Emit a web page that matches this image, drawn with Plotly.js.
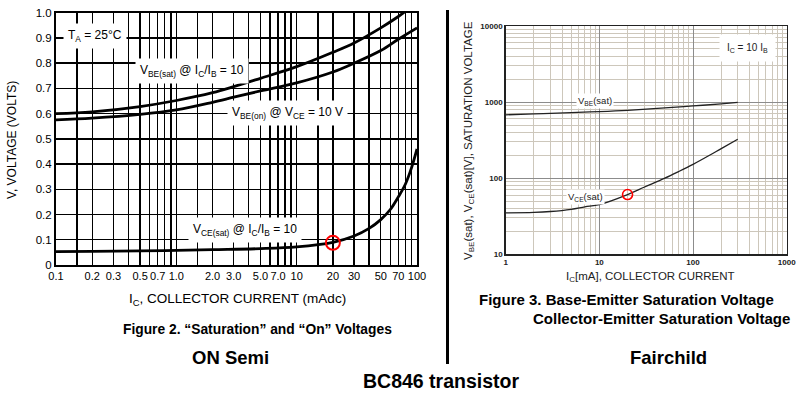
<!DOCTYPE html>
<html>
<head>
<meta charset="utf-8">
<script src="https://cdn.plot.ly/plotly-3.0.1.min.js"></script>
<style>html,body{margin:0;padding:0;background:#fff;}#chart{width:807px;height:398px;}</style>
</head>
<body>
<div id="chart"></div>
<script>
// ---------- ON Semi chart (left) ----------
const icBeSat = [0.1, 0.2, 0.5, 1, 2, 3, 5, 10, 20, 30, 50, 70, 80];
const vBeSat  = [0.600, 0.607, 0.628, 0.652, 0.683, 0.707, 0.740, 0.786, 0.843, 0.880, 0.940, 0.985, 1.005];
const icBeOn  = [0.1, 0.2, 0.5, 1, 2, 3, 5, 10, 20, 30, 50, 70, 100];
const vBeOn   = [0.575, 0.582, 0.597, 0.615, 0.645, 0.665, 0.690, 0.722, 0.765, 0.800, 0.850, 0.895, 0.940];
const icCeSat = [0.1, 0.2, 0.5, 1, 2, 5, 10, 20, 30, 40, 50, 60, 70, 80, 90, 100];
const vCeSat  = [0.053, 0.054, 0.056, 0.058, 0.061, 0.065, 0.072, 0.090, 0.115, 0.145, 0.180, 0.220, 0.270, 0.320, 0.385, 0.460];
const markLeftX = [20];
const markLeftY = [0.088];
const leftXTicks = [0.1, 0.2, 0.3, 0.5, 0.7, 1, 2, 3, 5, 7, 10, 20, 30, 50, 70, 100];
const leftXLabels = ['0.1','0.2','0.3','0.5','0.7','1.0','2.0','3.0','5.0','7.0','10','20','30','50','70','100'];
const leftXMinor = [0.15, 0.4, 0.6, 0.8, 0.9, 1.5, 4, 6, 8, 9, 15, 40, 60, 80, 90];
const leftYTicks = [0, 0.1, 0.2, 0.3, 0.4, 0.5, 0.6, 0.7, 0.8, 0.9, 1.0];
const leftYLabels = ['0','0.1','0.2','0.3','0.4','0.5','0.6','0.7','0.8','0.9','1.0'];

// ---------- Fairchild chart (right) ----------
const icR   = [1, 2, 3, 5, 10, 20, 50, 100, 200, 300];
const vBeR  = [680, 700, 712, 728, 750, 780, 840, 890, 950, 990];
const icCeR = [1, 2, 3, 5, 7, 10, 20, 30, 50, 70, 100, 150, 200, 300];
const vCeR  = [35, 35.5, 36.5, 39, 42, 45, 61, 76, 100, 122, 152, 200, 245, 325];
const markRightX = [20];
const markRightY = [61];
const rightXTicks = [1, 10, 100, 1000];
const rightYTicks = [10, 100, 1000, 10000];
const rightXMinor = [2,3,4,5,6,7,8,9,20,30,40,50,60,70,80,90,200,300,400,500,600,700,800,900];
const rightYMinor = [20,30,40,50,60,70,80,90,200,300,400,500,600,700,800,900,2000,3000,4000,5000,6000,7000,8000,9000];

const W = 807, H = 398;
const px = v => v / W;
const py = v => 1 - v / H;
const ARIAL = "'Liberation Sans', Arial, sans-serif";

const traces = [
  {x: icBeSat, y: vBeSat, xaxis: 'x', yaxis: 'y', mode: 'lines', line: {color: '#000', width: 2.8, shape: 'spline', smoothing: 1}, hoverinfo: 'skip'},
  {x: icBeOn, y: vBeOn, xaxis: 'x', yaxis: 'y', mode: 'lines', line: {color: '#000', width: 2.8, shape: 'spline', smoothing: 1}, hoverinfo: 'skip'},
  {x: icCeSat, y: vCeSat, xaxis: 'x', yaxis: 'y', mode: 'lines', line: {color: '#000', width: 2.8, shape: 'spline', smoothing: 1}, hoverinfo: 'skip'},
  {x: markLeftX, y: markLeftY, xaxis: 'x', yaxis: 'y', mode: 'markers', marker: {symbol: 'circle-open', size: 14, color: '#ff0000', line: {width: 2, color: '#ff0000'}}, hoverinfo: 'skip'},
  {x: icR, y: vBeR, xaxis: 'x2', yaxis: 'y2', mode: 'lines', line: {color: '#222', width: 1.3, shape: 'spline'}, hoverinfo: 'skip'},
  {x: icCeR, y: vCeR, xaxis: 'x2', yaxis: 'y2', mode: 'lines', line: {color: '#222', width: 1.3, shape: 'spline'}, hoverinfo: 'skip'},
  {x: markRightX, y: markRightY, xaxis: 'x2', yaxis: 'y2', mode: 'markers', marker: {symbol: 'circle-open', size: 10, color: '#ff0000', line: {width: 1.6, color: '#ff0000'}}, hoverinfo: 'skip'}
];

function ann(text, x, y, size, opts) {
  const o = Object.assign({text: text, x: px(x), y: py(y), xref: 'paper', yref: 'paper', showarrow: false,
    xanchor: 'center', yanchor: 'middle'}, opts || {});
  o.font = Object.assign({family: ARIAL, size: size, color: '#000'}, (opts && opts.font) || {});
  return o;
}

const annotations = [
  ann('T<sub>A</sub> = 25°C', 95, 36, 12, {bgcolor: '#fff', borderpad: 4}),
  ann('V<sub>BE(sat)</sub> @ I<sub>C</sub>/I<sub>B</sub> = 10', 192, 71, 12, {bgcolor: '#fff', borderpad: 4}),
  ann('V<sub>BE(on)</sub> @ V<sub>CE</sub> = 10 V', 287, 113, 12, {bgcolor: '#fff', borderpad: 4}),
  ann('V<sub>CE(sat)</sub> @ I<sub>C</sub>/I<sub>B</sub> = 10', 245, 230, 12, {bgcolor: '#fff', borderpad: 4}),
  ann('I<sub>C</sub>, COLLECTOR CURRENT (mAdc)', 237, 299, 13.5),
  ann('V, VOLTAGE (VOLTS)', 12, 140, 12, {textangle: -90}),
  ann('<b>Figure 2. \u201cSaturation\u201d and \u201cOn\u201d Voltages</b>', 257, 329, 13.8),
  ann('<b>ON Semi</b>', 231, 357, 18.5),
  ann('I<sub>C</sub> = 10 I<sub>B</sub>', 747, 48, 10, {bgcolor: '#fff', borderpad: 7, font: {color: '#222'}}),
  ann('V<sub>BE</sub>(sat)', 595, 101, 9.5, {bgcolor: '#fff', borderpad: 1, font: {color: '#222'}}),
  ann('V<sub>CE</sub>(sat)', 585, 197, 9.5, {bgcolor: '#fff', borderpad: 1, font: {color: '#222'}}),
  ann('I<sub>C</sub>[mA], COLLECTOR CURRENT', 650, 277, 11.5, {font: {color: '#222'}}),
  ann('V<sub>BE</sub>(sat), V<sub>CE</sub>(sat)[V], SATURATION VOLTAGE', 469, 141, 11.5, {textangle: -90, font: {color: '#222'}}),
  ann('<b>Figure 3. Base-Emitter Saturation Voltage</b>', 626, 299, 15),
  ann('<b>Collector-Emitter Saturation Voltage</b>', 661, 318, 15),
  ann('<b>Fairchild</b>', 668, 357, 18.5),
  ann('<b>BC846 transistor</b>', 441, 381, 19.5)
];

const layout = {
  width: W, height: H,
  margin: {l: 0, r: 0, t: 0, b: 0},
  paper_bgcolor: '#fff', plot_bgcolor: '#fff',
  showlegend: false,
  xaxis: {
    type: 'log', range: [-1, 2], domain: [px(56), px(417)], anchor: 'y',
    tickmode: 'array', tickvals: leftXTicks, ticktext: leftXLabels, ticks: '', tickangle: 0,
    showgrid: true, gridcolor: '#000', gridwidth: 1.4,
    minor: {tickmode: 'array', tickvals: leftXMinor, showgrid: true, gridcolor: '#000', gridwidth: 1.4, ticks: ''},
    showline: true, linecolor: '#000', linewidth: 2, mirror: true,
    tickfont: {family: ARIAL, size: 11, color: '#000'}, fixedrange: true
  },
  yaxis: {
    range: [0, 1.0], domain: [py(265), py(12.7)], anchor: 'x',
    tickmode: 'array', tickvals: leftYTicks, ticktext: leftYLabels, ticks: '',
    showgrid: true, gridcolor: '#000', gridwidth: 1.4, zeroline: false,
    showline: true, linecolor: '#000', linewidth: 2, mirror: true,
    tickfont: {family: ARIAL, size: 11.5, color: '#000'}, fixedrange: true
  },
  xaxis2: {
    type: 'log', range: [0, 3], domain: [px(505.7), px(786.7)], anchor: 'y2',
    tickmode: 'array', tickvals: rightXTicks, ticktext: ['1','10','100','1000'], ticks: '', tickangle: 0,
    showgrid: true, gridcolor: '#8c8c8c', gridwidth: 1,
    minor: {tickmode: 'array', tickvals: rightXMinor, showgrid: true, gridcolor: '#cdc7bb', gridwidth: 1, ticks: ''},
    showline: true, linecolor: '#222', linewidth: 1.5, mirror: true,
    tickfont: {family: ARIAL, size: 8, color: '#222', weight: 'bold'}, fixedrange: true
  },
  yaxis2: {
    type: 'log', range: [1, 4], domain: [py(254.3), py(26)], anchor: 'x2',
    tickmode: 'array', tickvals: rightYTicks, ticktext: ['10','100','1000','10000'], ticks: '',
    showgrid: true, gridcolor: '#8c8c8c', gridwidth: 1,
    minor: {tickmode: 'array', tickvals: rightYMinor, showgrid: true, gridcolor: '#cdc7bb', gridwidth: 1, ticks: ''},
    showline: true, linecolor: '#222', linewidth: 1.5, mirror: true,
    tickfont: {family: ARIAL, size: 8, color: '#222', weight: 'bold'}, fixedrange: true
  },
  shapes: [
    {type: 'line', xref: 'paper', yref: 'paper', x0: px(447.5), x1: px(447.5), y0: py(10), y1: py(364), line: {color: '#000', width: 3}}
  ],
  annotations: annotations
};

Plotly.newPlot('chart', traces, layout, {staticPlot: true, displayModeBar: false});
</script>
</body>
</html>
